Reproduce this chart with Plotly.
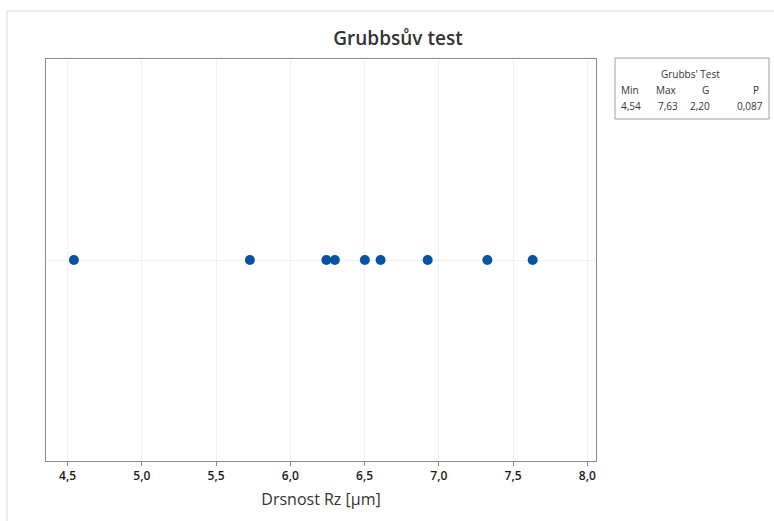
import plotly.graph_objects as go

values = [4.543, 5.728, 6.243, 6.300, 6.502, 6.608, 6.925, 7.327, 7.632]
tick_vals = [4.5, 5.0, 5.5, 6.0, 6.5, 7.0, 7.5, 8.0]
table_headers = ["Min", "Max", "G", "P"]
table_values = ["4,54", "7,63", "2,20", "0,087"]

W, H = 774, 521
L, R, T, B = 46, 596, 59, 461
pw, ph = R - L, B - T

def px(x):
    return (x - L) / pw

def py(y):
    return (B - y) / ph

font = "Open Sans, Noto Sans, sans-serif"

fig = go.Figure()
fig.add_trace(go.Scatter(
    x=values, y=[0] * len(values), mode="markers",
    marker=dict(color="#0652A5", size=10, line=dict(width=0)),
    hoverinfo="x", showlegend=False,
))

shapes = [
    dict(type="rect", xref="paper", yref="paper", x0=px(7), x1=px(800), y0=py(540), y1=py(11),
         line=dict(color="#D9D9D9", width=1), fillcolor="rgba(0,0,0,0)", layer="below"),
    dict(type="rect", xref="paper", yref="paper", x0=px(615), x1=px(769), y0=py(119), y1=py(58),
         line=dict(color="#A0A0A0", width=1), fillcolor="white"),
]

ann = [dict(text="Grubbs' Test", xref="paper", yref="paper", x=px(690), y=py(74),
            xanchor="center", yanchor="middle", showarrow=False,
            font=dict(size=10, color="#333", family=font))]
hx = [641, 679, 711, 761]
vx = [643, 680, 712, 765]
for h, v, x1, x2 in zip(table_headers, table_values, hx, vx):
    ann.append(dict(text=h, xref="paper", yref="paper", x=px(x1), y=py(90),
                    xanchor="right", yanchor="middle", showarrow=False,
                    font=dict(size=10, color="#333", family=font)))
    ann.append(dict(text=v, xref="paper", yref="paper", x=px(x2), y=py(106),
                    xanchor="right", yanchor="middle", showarrow=False,
                    font=dict(size=10, color="#333", family=font)))

fig.update_layout(
    width=W, height=H,
    margin=dict(l=L, r=W - R, t=T, b=H - B),
    paper_bgcolor="white", plot_bgcolor="white",
    separators=", ",
    title=dict(text="Grubbsův test", x=398 / W, xanchor="center", y=1 - 38 / H, yanchor="middle",
               font=dict(size=19, color="#333", family=font, weight=600)),
    xaxis=dict(range=[4.355, 8.0585], tickvals=tick_vals, tickformat=".1f",
               showgrid=True, gridcolor="#F0F0F0", zeroline=False,
               showline=True, linecolor="#8A8A8A", mirror=True, linewidth=1,
               ticks="outside", ticklen=4, tickcolor="#8A8A8A",
               tickfont=dict(size=12, color="#1a1a1a", family=font, weight=600),
               title=dict(text="Drsnost Rz [µm]", font=dict(size=16, color="#333", family=font), standoff=10)),
    yaxis=dict(range=[-1, 1], showticklabels=False, tickvals=[0], showgrid=True, gridcolor="#F0F0F0",
               zeroline=False, showline=True, linecolor="#8A8A8A", mirror=True, linewidth=1, ticks=""),
    shapes=shapes, annotations=ann,
    font=dict(family=font),
)

fig.write_html("out.html", config={"displayModeBar": False},
               post_script="document.body.style.margin='0';document.body.style.overflow='hidden';")
